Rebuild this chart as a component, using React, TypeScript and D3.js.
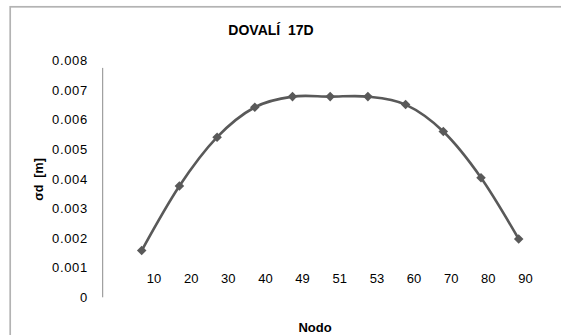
import { useEffect, useRef } from "react"
import * as d3 from "d3"

const nodes = ["10", "20", "30", "40", "49", "51", "53", "60", "70", "80", "90"]
const sigmaD = [0.00158, 0.00376, 0.00541, 0.00642, 0.00678, 0.00678, 0.00678, 0.00651, 0.0056, 0.00404, 0.00197]
const yTicks = [0, 0.001, 0.002, 0.003, 0.004, 0.005, 0.006, 0.007, 0.008]

const W = 561
const H = 335
const FONT = "'Liberation Sans', Arial, sans-serif"
const INK = "#595959"

export default function App() {
  const svgRef = useRef<SVGSVGElement>(null)

  useEffect(() => {
    if (!svgRef.current) return
    const svg = d3.select(svgRef.current)
    svg.selectAll("*").remove()

    // chart frame (clipped at right and bottom in the original)
    svg
      .append("rect")
      .attr("x", 10.2)
      .attr("y", 6.8)
      .attr("width", 700)
      .attr("height", 500)
      .attr("fill", "#fff")
      .attr("stroke", "#b3b3b3")
      .attr("stroke-width", 1.7)

    const x = d3.scalePoint<string>().domain(nodes).range([141.7, 518.7])
    // category labels sit on their own row, not under the markers
    const xLabel = d3.scalePoint<string>().domain(nodes).range([154, 525.5])
    const y = d3.scaleLinear().domain([0, 0.008]).range([297.3, 60.5])

    // title
    svg
      .append("text")
      .attr("x", 271)
      .attr("y", 35)
      .attr("text-anchor", "middle")
      .attr("font-family", FONT)
      .attr("font-weight", "bold")
      .attr("font-size", 14)
      .attr("fill", "#000")
      .attr("xml:space", "preserve")
      .text("DOVALÍ  17D")

    // y axis line
    svg
      .append("line")
      .attr("x1", 102.7)
      .attr("x2", 102.7)
      .attr("y1", y(0))
      .attr("y2", y(0.00775))
      .attr("stroke", "#8c8c8c")
      .attr("stroke-width", 1)

    // y tick labels
    svg
      .append("g")
      .selectAll("text")
      .data(yTicks)
      .enter()
      .append("text")
      .attr("x", 88)
      .attr("y", (d) => y(d) + 4.6)
      .attr("text-anchor", "end")
      .attr("font-family", FONT)
      .attr("font-size", 13)
      .attr("letter-spacing", 0.7)
      .attr("fill", "#000")
      .text((d) => (d === 0 ? "0" : d3.format(".3f")(d)))

    // y axis title
    svg
      .append("text")
      .attr("transform", `translate(43,179.5) rotate(-90)`)
      .attr("text-anchor", "middle")
      .attr("font-family", FONT)
      .attr("font-weight", "bold")
      .attr("font-size", 12.5)
      .attr("fill", "#000")
      .attr("xml:space", "preserve")
      .text("σd  [m]")

    // x category labels
    svg
      .append("g")
      .selectAll("text")
      .data(nodes)
      .enter()
      .append("text")
      .attr("x", (d) => xLabel(d)!)
      .attr("y", 282.8)
      .attr("text-anchor", "middle")
      .attr("font-family", FONT)
      .attr("font-size", 13)
      .attr("fill", "#000")
      .text((d) => d)

    // x axis title
    svg
      .append("text")
      .attr("x", 315)
      .attr("y", 331.5)
      .attr("text-anchor", "middle")
      .attr("font-family", FONT)
      .attr("font-weight", "bold")
      .attr("font-size", 13)
      .attr("fill", "#000")
      .text("Nodo")

    // smoothed line
    const line = d3
      .line<number>()
      .x((_, i) => x(nodes[i])!)
      .y((d) => y(d))
      .curve(d3.curveCardinal.tension(0))

    svg
      .append("path")
      .datum(sigmaD)
      .attr("d", line)
      .attr("fill", "none")
      .attr("stroke", INK)
      .attr("stroke-width", 2.6)

    // diamond markers
    const diamond = d3.symbol().type(d3.symbolDiamond2).size(58)
    svg
      .append("g")
      .selectAll("path")
      .data(sigmaD)
      .enter()
      .append("path")
      .attr("transform", (d, i) => `translate(${x(nodes[i])},${y(d)})`)
      .attr("d", diamond)
      .attr("fill", INK)
  }, [])

  return (
    <svg
      ref={svgRef}
      width={W}
      height={H}
      style={{ position: "absolute", left: 0, top: 0, background: "#fff" }}
    />
  )
}
